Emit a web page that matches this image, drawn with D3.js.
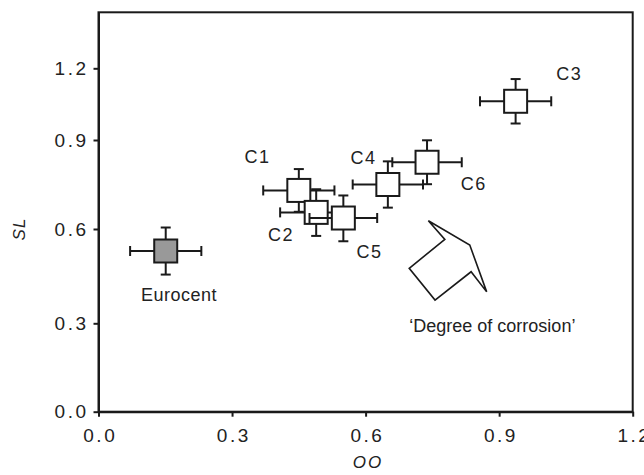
<!DOCTYPE html>
<html><head><meta charset="utf-8">
<script src="https://cdn.jsdelivr.net/npm/d3@7/dist/d3.min.js"></script>
<style>
html,body{margin:0;padding:0;background:#fff;}
svg{display:block;font-family:"Liberation Sans",Arial,sans-serif;}
</style></head>
<body>
<script>
// ---- data ----
const names   = ["Eurocent","C1","C2","C5","C4","C6","C3"];
const ooVals  = [0.151, 0.450, 0.489, 0.550, 0.650, 0.738, 0.937];
const ooErr   = [0.080, 0.080, 0.081, 0.076, 0.079, 0.078, 0.080];
const slVals  = [0.530, 0.730, 0.656, 0.637, 0.750, 0.825, 1.062];
const slErr   = [0.075, 0.072, 0.078, 0.076, 0.078, 0.074, 0.093];
const xTicks  = [0.0, 0.3, 0.6, 0.9, 1.2];
const yTicks  = [0.0, 0.3, 0.6, 0.9, 1.2];
// arrow annotation outline (data units)
const arrowOO = [0.741, 0.834, 0.872, 0.837, 0.756, 0.698, 0.778];
const arrowSL = [0.628, 0.549, 0.400, 0.464, 0.374, 0.475, 0.567];

// ---- layout ----
const W = 644, H = 475;
const L = 98.5, R = 632.7, T = 12.3, B = 411.7;
const FS = 18, TFS = 19, TICK_LS = 2.5;
const svg = d3.select("body").append("svg").attr("width", W).attr("height", H);

const x = d3.scaleLinear().domain([0, 1.2]).range([L, R]);
// the printed y axis is not evenly spaced; follow its tick positions piecewise
const y = d3.scaleLinear().domain([0, 0.3, 0.6, 0.9, 1.2, 1.434])
  .range([B, 323.3, 229, 140, 68.3, T]);

const ink = "#1a1a1a";
svg.append("rect").attr("x", L).attr("y", T).attr("width", R - L).attr("height", B - T)
  .attr("fill", "none").attr("stroke", ink).attr("stroke-width", 2);

const fmt = d3.format(".1f");
const xa = svg.append("g").attr("transform", `translate(0,${B})`)
  .call(d3.axisBottom(x).tickValues(xTicks).tickFormat(fmt).tickSizeInner(5).tickSizeOuter(0).tickPadding(12));
const ya = svg.append("g").attr("transform", `translate(${L},0)`)
  .call(d3.axisLeft(y).tickValues(yTicks).tickFormat(fmt).tickSizeInner(5).tickSizeOuter(0).tickPadding(5));
[xa, ya].forEach(g => {
  g.select(".domain").attr("stroke", ink).attr("stroke-width", 2);
  g.selectAll(".tick line").attr("stroke", ink).attr("stroke-width", 2);
  g.selectAll(".tick text").attr("fill", "#222").attr("font-size", TFS)
    .attr("letter-spacing", TICK_LS)
    .attr("font-family", "'Liberation Sans',Arial,sans-serif");
});
xa.selectAll(".tick text").attr("dx", TICK_LS / 2);

// axis titles
svg.append("text").attr("x", 368).attr("y", 468).attr("text-anchor", "middle")
  .attr("font-size", FS - 1).attr("font-style", "italic").attr("letter-spacing", 2)
  .attr("fill", "#222").text("OO");
svg.append("text").attr("transform", `translate(25,229) rotate(-90)`)
  .attr("text-anchor", "middle").attr("font-size", FS - 1).attr("font-style", "italic")
  .attr("letter-spacing", 1).attr("fill", "#222").text("SL");

// arrow annotation
const arrowPts = arrowOO.map((v, i) => [x(v), y(arrowSL[i])]);
svg.append("path").attr("d", d3.line()(arrowPts) + "Z")
  .attr("fill", "none").attr("stroke", ink).attr("stroke-width", 1.6).attr("stroke-linejoin", "miter");
svg.append("text").attr("x", x(0.878) + 3).attr("y", y(0.270)).attr("text-anchor", "middle")
  .attr("font-size", FS).attr("fill", "#222").text("\u2018Degree of corrosion\u2019");

// points
const pts = names.map((n, i) => ({ n, ox: ooVals[i], ex: ooErr[i], sy: slVals[i], ey: slErr[i] }));
const cap = 5, half = 11.5;
pts.forEach(d => {
  const g = svg.append("g");
  const cx = x(d.ox), cy = y(d.sy);
  const x0 = x(d.ox - d.ex), x1 = x(d.ox + d.ex), y0 = y(d.sy + d.ey), y1 = y(d.sy - d.ey);
  const segs = [
    [[x0, cy], [x1, cy]], [[cx, y0], [cx, y1]],
    [[x0, cy - cap], [x0, cy + cap]], [[x1, cy - cap], [x1, cy + cap]],
    [[cx - cap, y0], [cx + cap, y0]], [[cx - cap, y1], [cx + cap, y1]]
  ];
  segs.forEach(s => g.append("path").attr("d", d3.line()(s)).attr("stroke", ink).attr("stroke-width", 2).attr("fill", "none"));
  g.append("rect").attr("x", cx - half).attr("y", cy - half).attr("width", 2 * half).attr("height", 2 * half)
    .attr("fill", d.n === "Eurocent" ? "#999999" : "#ffffff").attr("stroke", ink).attr("stroke-width", 2);
});

// labels (offsets in px from point centre)
const labelDx = { Eurocent: 13, C1: -42, C2: -36, C5: 25.5, C4: -25, C6: 46, C3: 53 };
const labelDy = { Eurocent: 50, C1: -27, C2: 28.5, C5: 40, C4: -21, C6: 28, C3: -21 };
pts.forEach(d => {
  const ls = d.n === "Eurocent" ? 0.5 : 1.5;
  svg.append("text").attr("x", x(d.ox) + labelDx[d.n] + ls / 2).attr("y", y(d.sy) + labelDy[d.n])
    .attr("text-anchor", "middle").attr("font-size", FS).attr("letter-spacing", ls)
    .attr("fill", "#222").text(d.n);
});
</script>
</body></html>
